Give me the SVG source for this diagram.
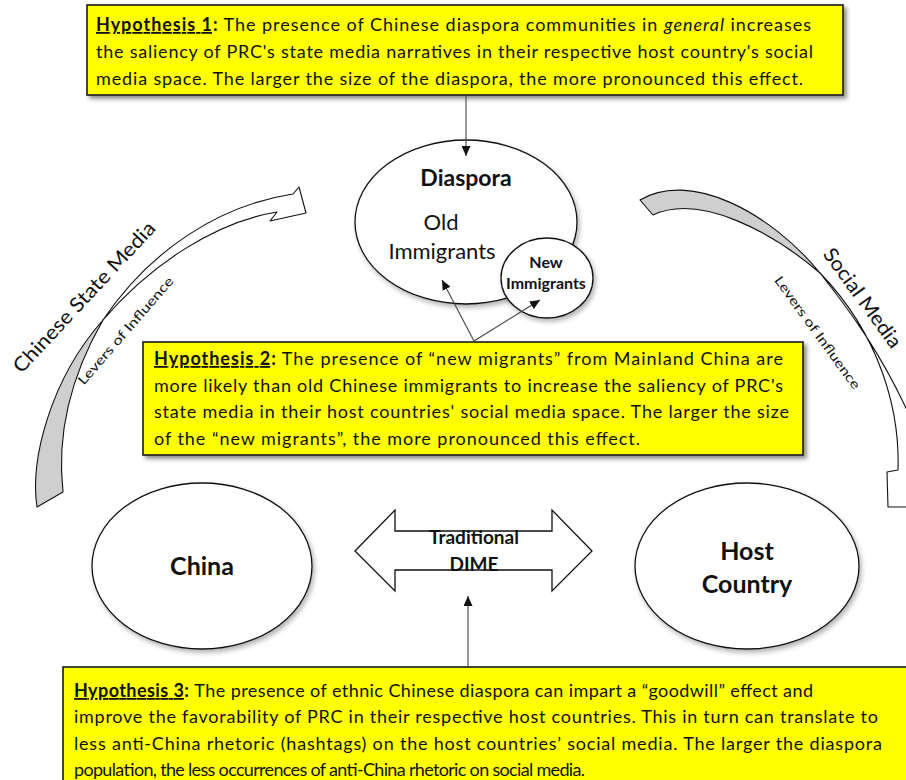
<svg xmlns="http://www.w3.org/2000/svg" width="906" height="780" viewBox="0 0 906 780">
  <defs>
    <style>
      .hyp { fill: #ffff00; stroke: #1a1a1a; stroke-width: 1.6; filter: url(#shadow); }
      .ht { font-family: Lato, "Open Sans", sans-serif; font-size: 18px; fill: #111; }
      .hb { font-weight: bold; }
      .ell { fill: #ffffff; stroke: #111; stroke-width: 1.3; filter: url(#softshadow); }
      .lbl { font-family: Lato, "Open Sans", sans-serif; fill: #111; text-anchor: middle; }
      .bold { font-weight: bold; }
      .conn { stroke: #444; stroke-width: 1.1; fill: none; marker-end: url(#head); }
      .band { stroke: #111; stroke-width: 1.1; stroke-linejoin: round; }
    </style>
    <filter id="shadow" x="-5%" y="-10%" width="112%" height="130%">
      <feDropShadow dx="3" dy="3" stdDeviation="2" flood-color="#000" flood-opacity="0.45"/>
    </filter>
    <filter id="softshadow" x="-10%" y="-10%" width="125%" height="125%">
      <feDropShadow dx="2" dy="3" stdDeviation="2.5" flood-color="#000" flood-opacity="0.3"/>
    </filter>
    <marker id="head" markerUnits="userSpaceOnUse" markerWidth="11" markerHeight="9" refX="10" refY="4.5" orient="auto">
      <path d="M0,0 L10,4.5 L0,9 Z" fill="#111"/>
    </marker>
  </defs>

  <!-- curved lever arrows -->
  <g id="lever-state-media">
    <path class="band" fill="#cfcfcf" d="M37,507 C30,460 50,380 103,320 C80,360 55,420 63,492 Z"/>
    <path class="band" fill="#ffffff" d="M103,320 C150,250 220,205 293,194 L299,187 L306,213 L270,221 L277,212 C215,222 150,265 103,320 Z"/>
    <text class="lbl" font-size="20" transform="translate(84,297) rotate(-47)" y="7" textLength="198" lengthAdjust="spacingAndGlyphs">Chinese State Media</text>
    <text class="lbl" font-size="13" transform="translate(126,331) rotate(-49)" y="4" textLength="138" lengthAdjust="spacingAndGlyphs">Levers of Influence</text>
  </g>
  <g id="lever-social-media">
    <path class="band" fill="#cfcfcf" d="M640,200 C690,170 770,212 820,273 C772,232 700,193 653,215 Z"/>
    <path class="band" fill="#ffffff" d="M820,273 C850,311 882,354 911,419 L915,430 L915,507 L888,507 L887,472 L898,470 C900,410 880,335 820,273 Z"/>
    <text class="lbl" font-size="20" transform="translate(857,302) rotate(54)" y="0" textLength="118" lengthAdjust="spacingAndGlyphs">Social Media</text>
    <text class="lbl" font-size="13" transform="translate(817,333) rotate(54)" y="4" textLength="136" lengthAdjust="spacingAndGlyphs">Levers of Influence</text>
  </g>

  <!-- Hypothesis 1 -->
  <g id="hypothesis-1">
    <rect class="hyp" x="87" y="5" width="756" height="90"/>
    <text class="ht" x="96" y="31" textLength="715"><tspan class="hb" text-decoration="underline">Hypothesis 1</tspan><tspan class="hb">:</tspan><tspan dx="5">The presence of Chinese diaspora communities in </tspan><tspan font-style="italic">general</tspan> increases</text>
    <text class="ht" x="96" y="58" textLength="717">the saliency of PRC's state media narratives in their respective host country's social</text>
    <text class="ht" x="96" y="85" textLength="707">media space. The larger the size of the diaspora, the more pronounced this effect.</text>
  </g>

  <!-- Diaspora -->
  <g id="diaspora">
    <ellipse class="ell" cx="466" cy="222" rx="111" ry="82"/>
    <text class="lbl bold" x="466" y="186" font-size="23">Diaspora</text>
    <text class="lbl" x="441" y="230" font-size="22">Old</text>
    <text class="lbl" x="442" y="259" font-size="22">Immigrants</text>
  </g>
  <g id="new-immigrants">
    <ellipse class="ell" cx="547" cy="278" rx="46" ry="40"/>
    <text class="lbl bold" x="546" y="268" font-size="16">New</text>
    <text class="lbl bold" x="546" y="289" font-size="16">Immigrants</text>
  </g>

  <!-- Hypothesis 2 -->
  <g id="hypothesis-2">
    <rect class="hyp" x="143" y="342" width="660" height="113"/>
    <text class="ht" x="154" y="365" textLength="629"><tspan class="hb" text-decoration="underline">Hypothesis 2</tspan><tspan class="hb">:</tspan><tspan dx="5">The presence of “new migrants” from Mainland China are</tspan></text>
    <text class="ht" x="154" y="392" textLength="629">more likely than old Chinese immigrants to increase the saliency of PRC's</text>
    <text class="ht" x="154" y="418" textLength="635">state media in their host countries' social media space. The larger the size</text>
    <text class="ht" x="154" y="445" textLength="486">of the “new migrants”, the more pronounced this effect.</text>
  </g>

  <!-- China -->
  <g id="china">
    <ellipse class="ell" cx="202" cy="566" rx="110" ry="83"/>
    <text class="lbl bold" x="202" y="575" font-size="25">China</text>
  </g>

  <!-- Traditional DIME -->
  <g id="traditional-dime">
    <path fill="#ffffff" stroke="#111" stroke-width="1.3" d="M355,551 L395,510 L395,531 L552,531 L552,510 L592,551 L552,591 L552,570 L395,570 L395,591 Z"/>
    <text class="lbl bold" x="474" y="544" font-size="19">Traditional</text>
    <text class="lbl bold" x="474" y="571" font-size="19">DIME</text>
  </g>

  <!-- Host Country -->
  <g id="host-country">
    <ellipse class="ell" cx="747" cy="566" rx="112" ry="83"/>
    <text class="lbl bold" x="747" y="560" font-size="25">Host</text>
    <text class="lbl bold" x="747" y="593" font-size="25">Country</text>
  </g>

  <!-- Hypothesis 3 -->
  <g id="hypothesis-3">
    <rect class="hyp" x="63" y="667" width="850" height="120"/>
    <text class="ht" x="74" y="697" textLength="739"><tspan class="hb" text-decoration="underline">Hypothesis 3</tspan><tspan class="hb">:</tspan><tspan dx="5">The presence of ethnic Chinese diaspora can impart a “goodwill” effect and</tspan></text>
    <text class="ht" x="74" y="723" textLength="804">improve the favorability of PRC in their respective host countries. This in turn can translate to</text>
    <text class="ht" x="74" y="750" textLength="808">less anti-China rhetoric (hashtags) on the host countries’  social media. The larger the diaspora</text>
    <text class="ht" x="74" y="776" textLength="511">population, the less occurrences of anti-China rhetoric on social media.</text>
  </g>

  <!-- connectors (drawn last so the arrowheads sit on top of the shapes) -->
  <g id="connectors">
    <line class="conn" x1="466" y1="96" x2="466" y2="156"/>
    <line class="conn" x1="474" y1="341" x2="442" y2="280"/>
    <line class="conn" x1="474" y1="341" x2="540" y2="300"/>
    <line class="conn" x1="468" y1="667" x2="468" y2="596"/>
  </g>
</svg>
